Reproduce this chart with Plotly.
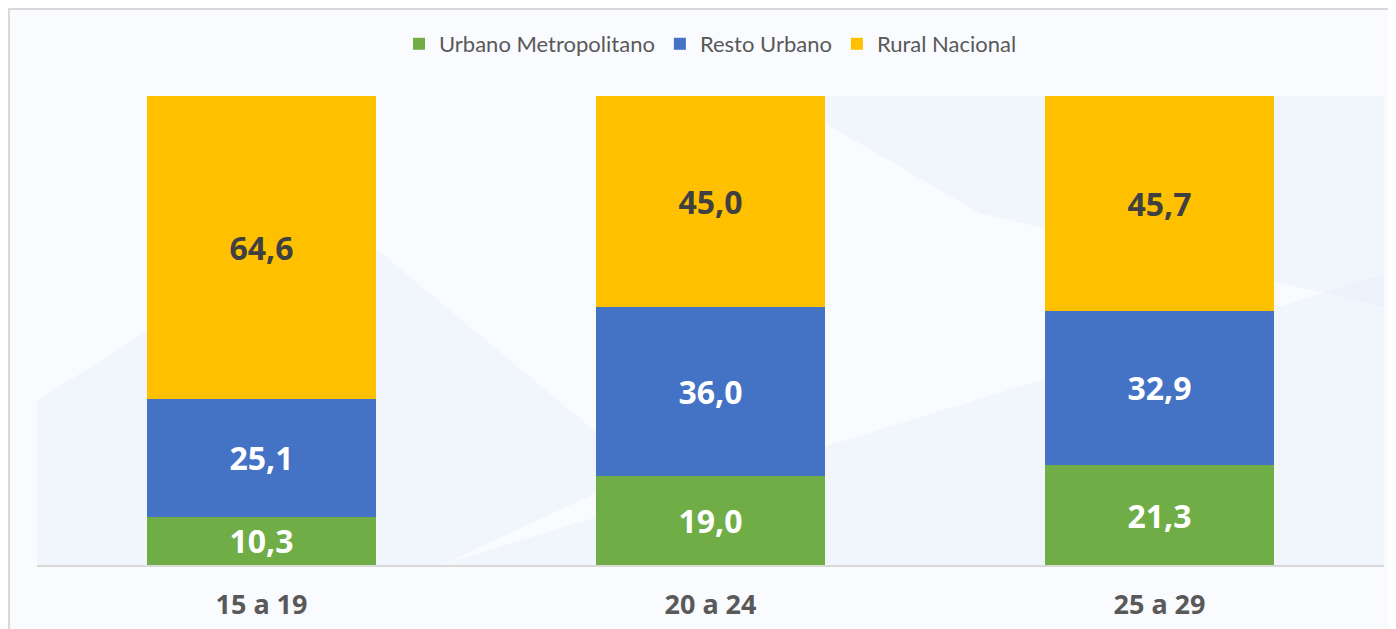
import plotly.graph_objects as go

# age groups and share by area (%)
grupos = ["15 a 19", "20 a 24", "25 a 29"]
urbano_metropolitano = [10.3, 19.0, 21.3]
resto_urbano = [25.1, 36.0, 32.9]
rural_nacional = [64.6, 45.0, 45.7]

series = [
    ("Urbano Metropolitano", urbano_metropolitano, "#70AD47", "white"),
    ("Resto Urbano", resto_urbano, "#4472C4", "white"),
    ("Rural Nacional", rural_nacional, "#FFC000", "#404040"),
]

fig = go.Figure()
for nombre, vals, color, txtcol in series:
    fig.add_trace(go.Bar(
        x=grupos, y=vals, name=nombre,
        marker=dict(color=color, line=dict(width=0)),
        texttemplate="%{y:.1f}", textposition="inside",
        insidetextanchor="middle", constraintext="none",
        textfont=dict(family="Noto Sans", size=32, color=txtcol, weight="bold"),
    ))

# faint background decoration
bg_shapes = [
    "M 0.30 0 L 1 0 L 1 0.62 Z",
    "M 0 0.35 L 0.22 0.75 L 0.45 0.2 L 0.3 0 L 0 0 Z",
    "M 0.55 1 L 1 1 L 1 0.55 L 0.7 0.75 Z",
]
for p in bg_shapes:
    fig.add_shape(type="path", path=p, xref="paper", yref="paper",
                  fillcolor="rgba(215,228,246,0.22)", line=dict(width=0),
                  layer="below")

W, H = 1396, 629
L, R, T, B = 29, 20, 88, 72
pw, ph = W - L - R, H - T - B

fig.update_layout(
    barmode="stack", bargap=0.49,
    separators=",.",
    width=W, height=H,
    margin=dict(l=L, r=R, t=T, b=B, autoexpand=False),
    paper_bgcolor="#F9FBFE", plot_bgcolor="rgba(0,0,0,0)",
    showlegend=True,
    legend=dict(orientation="h", x=0.5, xanchor="center",
                y=1 + (T - 36) / ph, yanchor="middle",
                font=dict(family="Lato", size=22, color="#595959"),
                itemwidth=30, traceorder="normal", bgcolor="rgba(0,0,0,0)"),
    xaxis=dict(showline=True, linecolor="#D9D9D9", linewidth=2,
               ticks="", showgrid=False, ticklabelstandoff=15,
               tickfont=dict(family="Noto Sans", size=27, color="#595959", weight="bold")),
    yaxis=dict(range=[0, 100], visible=False, showgrid=False),
)

# outer frame lines (top and left)
fig.add_shape(type="line", xref="paper", yref="paper",
              x0=-L / pw, x1=1 + R / pw, y0=1 + (T - 1) / ph, y1=1 + (T - 1) / ph,
              line=dict(color="#D9D9D9", width=2))
fig.add_shape(type="line", xref="paper", yref="paper",
              x0=-(L - 1) / pw, x1=-(L - 1) / pw, y0=-B / ph, y1=1 + T / ph,
              line=dict(color="#D9D9D9", width=2))

fig.write_html("out.html")
